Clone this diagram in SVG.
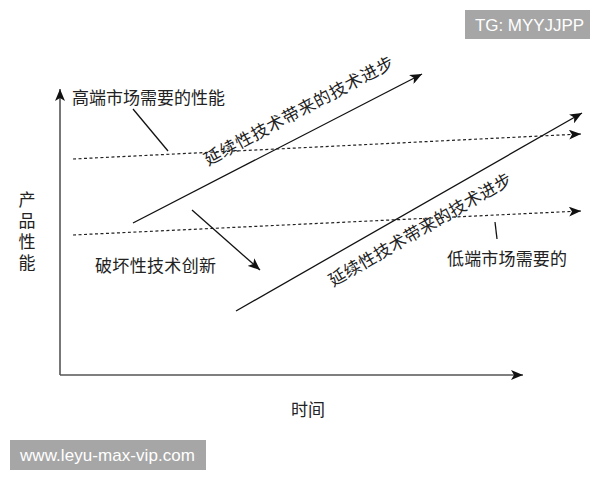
<svg xmlns="http://www.w3.org/2000/svg" width="600" height="480" viewBox="0 0 600 480">
<defs>
<marker id="ah" markerUnits="userSpaceOnUse" markerWidth="14" markerHeight="10" refX="12" refY="5" orient="auto">
<path d="M0,0 L12,5 L0,10 L3,5 Z" fill="#111"/>
</marker>
</defs>
<style>
.t{font-family:"Liberation Serif","Noto Sans CJK SC",serif;font-size:17px;fill:#222}
.axis{stroke:#555;stroke-width:1.6;fill:none}
.solid{stroke:#111;stroke-width:1.3;fill:none}
.dot{stroke:#222;stroke-width:1.2;stroke-dasharray:3,2.5;fill:none}
.wm{fill:#a6a6a6}
.wt{font-family:"Liberation Sans",Arial,sans-serif;font-size:17px;fill:#fff}
</style>
<rect width="600" height="480" fill="#fff"/>
<g id="connectors">
<line class="axis" x1="60" y1="375" x2="60" y2="89" marker-end="url(#ah)"/>
<line class="axis" x1="60" y1="375" x2="523" y2="375" marker-end="url(#ah)"/>
<line class="dot" x1="73" y1="159" x2="581" y2="134" marker-end="url(#ah)"/>
<line class="dot" x1="73" y1="235" x2="581" y2="211" marker-end="url(#ah)"/>
<line class="solid" x1="133" y1="223" x2="422" y2="74" marker-end="url(#ah)"/>
<line class="solid" x1="236" y1="311" x2="582" y2="113" marker-end="url(#ah)"/>
<line class="solid" x1="192" y1="210" x2="260" y2="270" marker-end="url(#ah)"/>
<line class="solid" x1="133" y1="109" x2="168" y2="151"/>
<line class="solid" x1="495" y1="222" x2="497" y2="239"/>
</g>
<g id="label-high"><text class="t" x="72" y="104" textLength="153">高端市场需要的性能</text></g>
<g id="label-sustain-upper"><text class="t" transform="translate(208,166) rotate(-28)" textLength="212">延续性技术带来的技术进步</text></g>
<g id="label-sustain-lower"><text class="t" transform="translate(333,287) rotate(-30)" textLength="208">延续性技术带来的技术进步</text></g>
<g id="label-disrupt"><text class="t" x="95" y="272" textLength="121">破坏性技术创新</text></g>
<g id="label-low"><text class="t" x="447" y="265" textLength="120">低端市场需要的</text></g>
<g id="label-y"><text class="t" text-anchor="middle">
<tspan x="27" y="206">产</tspan><tspan x="27" y="227">品</tspan><tspan x="27" y="248">性</tspan><tspan x="27" y="269">能</tspan></text></g>
<g id="label-x"><text class="t" x="308" y="416" text-anchor="middle">时间</text></g>
<g id="wm-top"><rect class="wm" x="465" y="10" width="125" height="29"/><text class="wt" x="475" y="31" textLength="109">TG: MYYJJPP</text></g>
<g id="wm-bottom"><rect class="wm" x="10" y="440" width="196" height="30"/><text class="wt" x="20" y="461" textLength="175">www.leyu-max-vip.com</text></g>
</svg>
